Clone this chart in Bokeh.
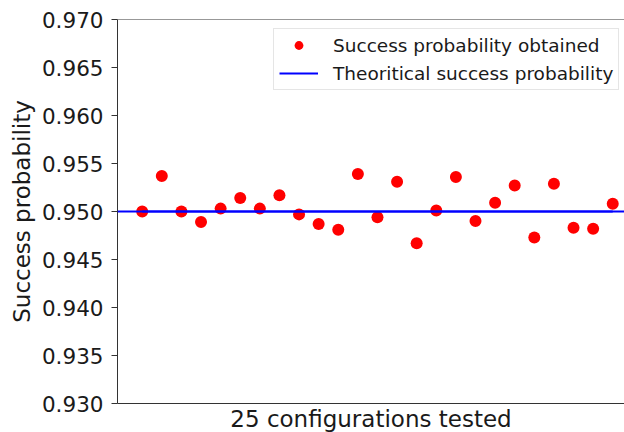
from bokeh.plotting import figure
from bokeh.models import Range1d, FixedTicker, Legend, LegendItem, PrintfTickFormatter, Span
from bokeh.embed import file_html
from bokeh.resources import INLINE

configs = list(range(1, 26))
success = [0.9500, 0.9537, 0.9500, 0.9489, 0.9503, 0.9514, 0.9503, 0.9517,
           0.9497, 0.9487, 0.9481, 0.9539, 0.9494, 0.9531, 0.9467, 0.9501,
           0.9536, 0.9490, 0.9509, 0.9527, 0.9473, 0.9529, 0.9483, 0.9482,
           0.9508]
theoretical = 0.95
y_ticks = [0.930, 0.935, 0.940, 0.945, 0.950, 0.955, 0.960, 0.965, 0.970]
label_obtained = "Success probability obtained"
label_theory = "Theoritical success probability"
x_label = "25 configurations tested"
y_label = "Success probability"

FONT = "DejaVu Sans"
SPINE = "#333333"

p = figure(frame_width=507, frame_height=384, output_backend="svg",
           toolbar_location=None,
           x_range=Range1d(-0.26, 25.6), y_range=Range1d(y_ticks[0], y_ticks[-1]),
           min_border_left=117, min_border_top=19, min_border_right=0,
           min_border_bottom=0)
p.background_fill_color = "white"
p.border_fill_color = "white"
p.outline_line_color = None
p.grid.visible = False

r_pts = p.scatter(configs, success, size=12, color="#ff0000", line_color=None)
r_line = p.line(configs, [theoretical] * len(configs), line_color="#0000ff", line_width=1.8)
p.add_layout(Span(location=theoretical, dimension="width", line_color="#0000ff", line_width=1.8))
# top spine
p.add_layout(Span(location=y_ticks[-1], dimension="width", line_color=SPINE, line_width=1))

# y axis
ya = p.yaxis[0]
ya.ticker = FixedTicker(ticks=y_ticks)
ya.formatter = PrintfTickFormatter(format="%.3f")
ya.axis_label = y_label
ya.axis_label_text_font = FONT
ya.axis_label_text_font_size = "23px"
ya.axis_label_text_font_style = "normal"
ya.axis_label_text_color = "#1a1a1a"
ya.axis_label_standoff = 4
ya.major_label_text_font = FONT
ya.major_label_text_font_size = "21.5px"
ya.major_label_text_color = "#1a1a1a"
ya.major_label_standoff = 8
ya.major_tick_out = 6
ya.major_tick_in = 0
ya.minor_tick_line_color = None
ya.axis_line_color = SPINE
ya.major_tick_line_color = SPINE

# x axis
xa = p.xaxis[0]
xa.ticker = FixedTicker(ticks=[])
xa.axis_label = x_label
xa.axis_label_text_font = FONT
xa.axis_label_text_font_size = "23px"
xa.axis_label_text_font_style = "normal"
xa.axis_label_text_color = "#1a1a1a"
xa.axis_label_standoff = 2
xa.major_label_standoff = 0
xa.major_tick_out = 0
xa.major_tick_in = 0
xa.minor_tick_line_color = None
xa.axis_line_color = SPINE

legend = Legend(items=[LegendItem(label=label_obtained, renderers=[r_pts]),
                       LegendItem(label=label_theory, renderers=[r_line])],
                location=(156, 313))
legend.label_text_font = FONT
legend.label_text_font_size = "18.5px"
legend.label_text_color = "#1a1a1a"
legend.glyph_width = 39
legend.glyph_height = 22
legend.label_height = 22
legend.label_standoff = 15
legend.spacing = 6
legend.padding = 5
legend.margin = 0
legend.border_line_color = "#cccccc"
legend.border_line_width = 1
legend.background_fill_color = "white"
legend.background_fill_alpha = 0.9
p.add_layout(legend)

open("out.html", "w").write(file_html(p, INLINE))
